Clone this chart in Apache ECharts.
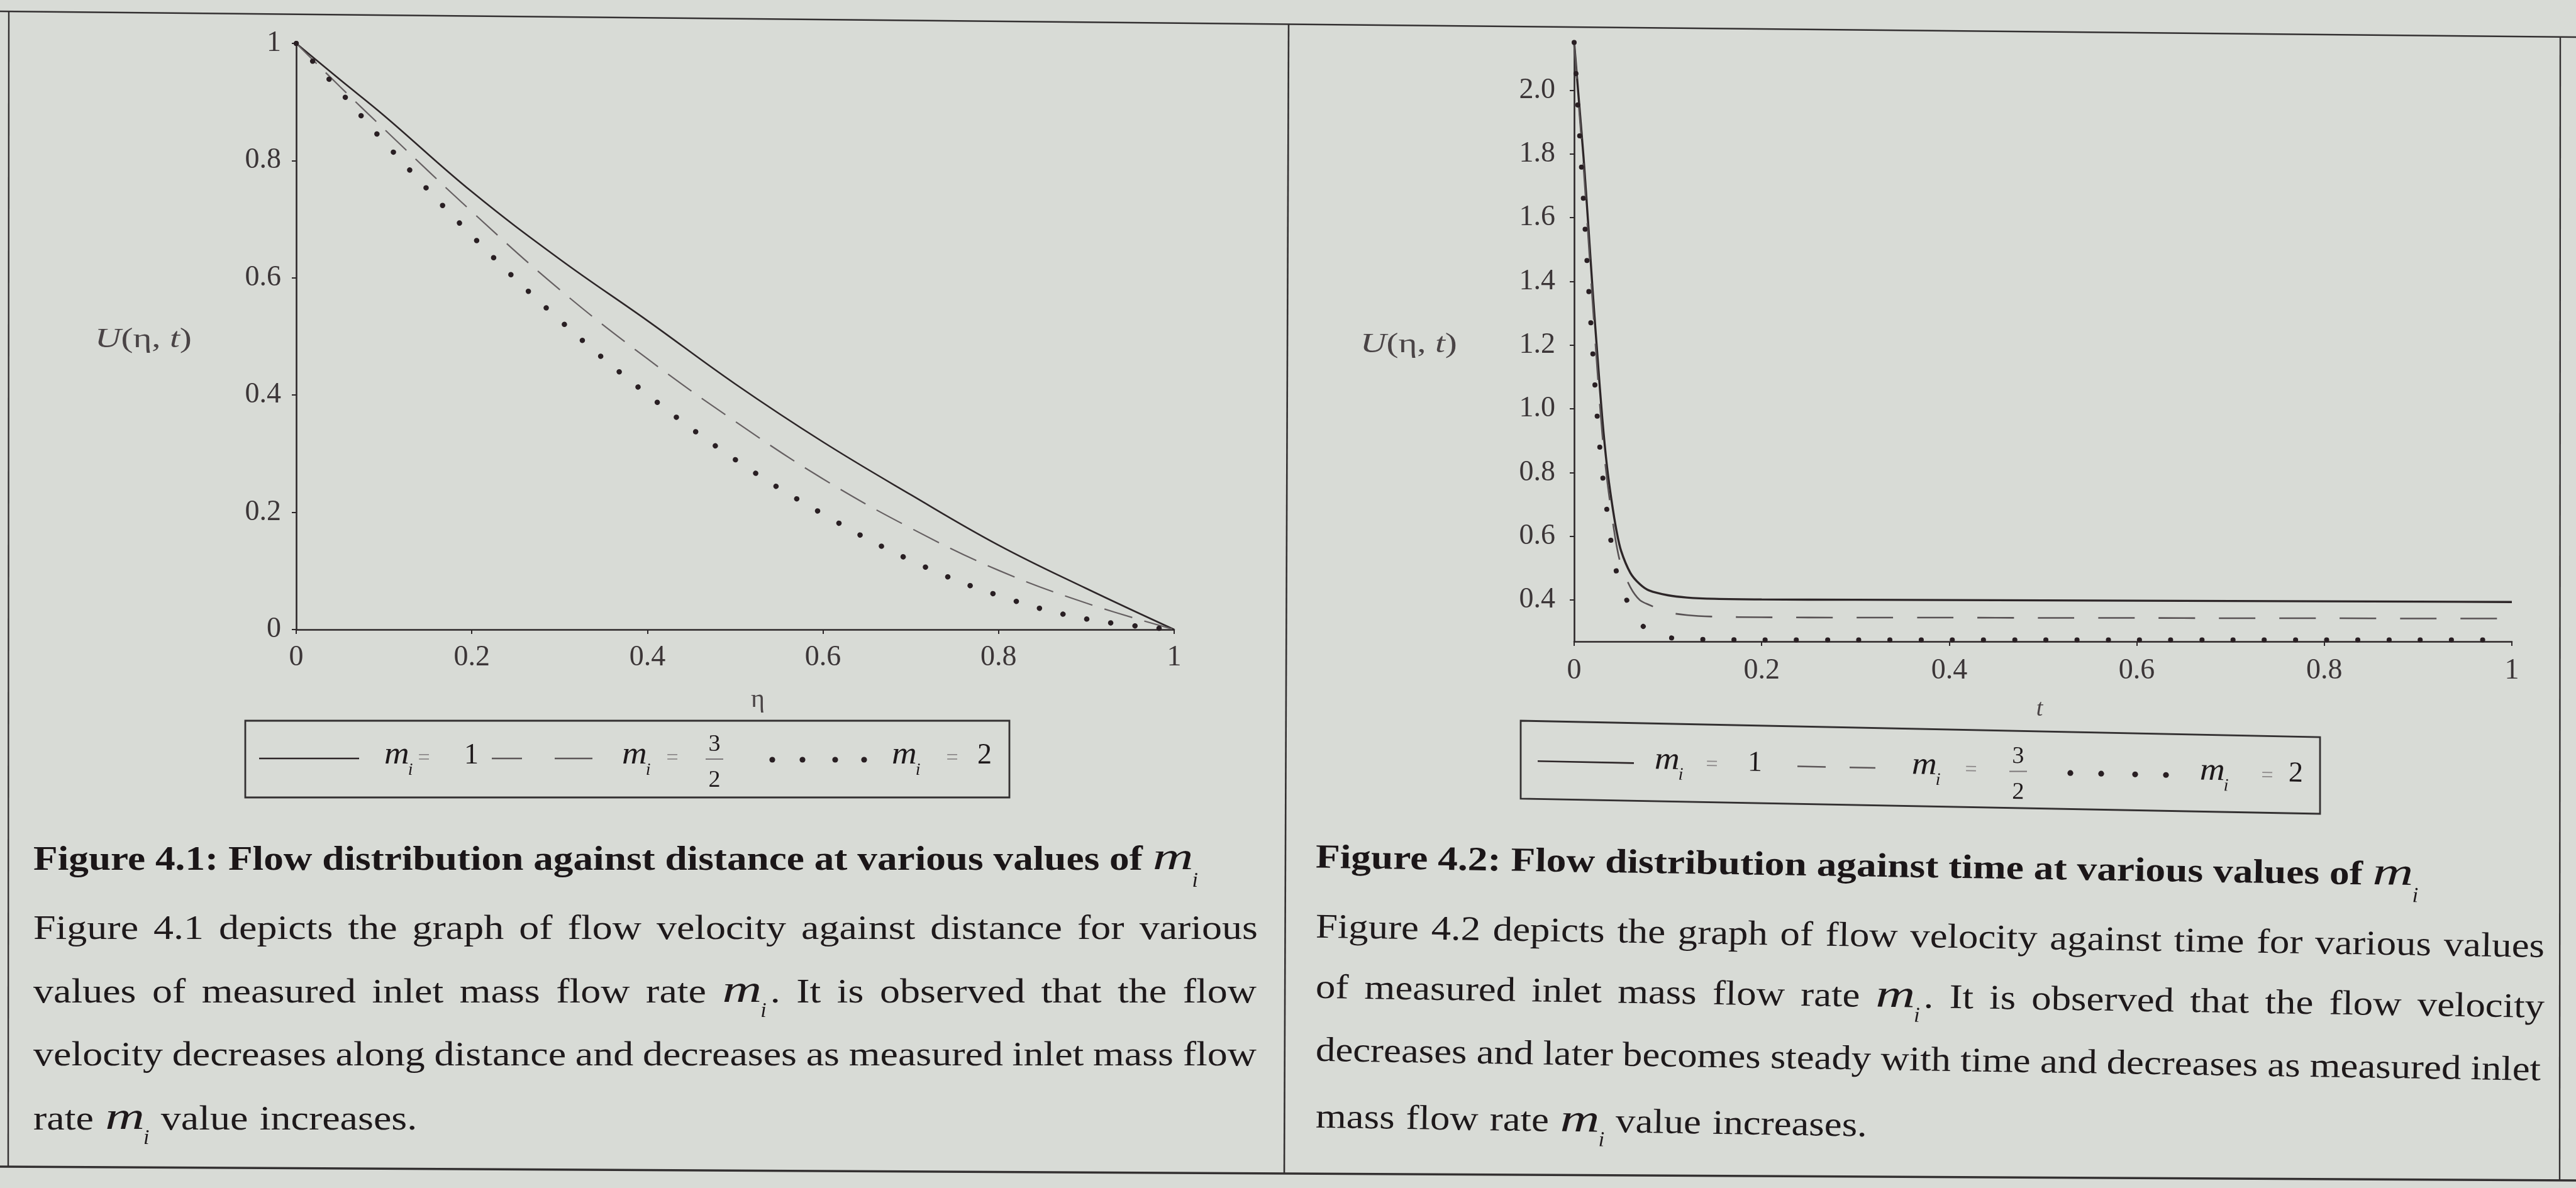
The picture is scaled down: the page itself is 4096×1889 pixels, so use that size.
<!DOCTYPE html>
<html>
<head>
<meta charset="utf-8">
<title>Flow distribution for various values of m_i</title>
<script src="https://cdn.jsdelivr.net/npm/echarts@6/dist/echarts.min.js"></script>
<style>
  html, body { margin: 0; padding: 0; background: #d8dbd6; overflow: hidden; }
  #chart { width: 4096px; height: 1889px; }
</style>
</head>
<body>
<div id="chart"></div>
<script>
// ---------- Figure 4.1: U(eta, t) against distance eta ----------
const etaValues = [0, 0.05, 0.1, 0.2, 0.3, 0.4, 0.5, 0.6, 0.7, 0.8, 0.9, 1.0];
const uDistM1   = [1.000, 0.938, 0.877, 0.747, 0.632, 0.527, 0.419, 0.320, 0.230, 0.144, 0.070, 0.000];
const uDistM32  = [1.000, 0.926, 0.854, 0.713, 0.580, 0.462, 0.355, 0.257, 0.173, 0.101, 0.045, 0.000];
const uDistM2   = [1.000, 0.918, 0.832, 0.672, 0.528, 0.401, 0.290, 0.197, 0.118, 0.058, 0.018, 0.000];

// ---------- Figure 4.2: U(eta, t) against time t ----------
const tValues  = [0, 0.005, 0.01, 0.015, 0.02, 0.025, 0.03, 0.035, 0.04, 0.045, 0.05, 0.06, 0.07, 0.08, 0.1, 0.12, 0.15, 0.2, 0.3, 0.4, 0.5, 0.6, 0.7, 0.8, 0.9, 1.0];
const uTimeM1  = [2.15, 1.97, 1.79, 1.58, 1.36, 1.16, 0.97, 0.82, 0.71, 0.62, 0.555, 0.485, 0.45, 0.43, 0.415, 0.408, 0.404, 0.402, 0.401, 0.400, 0.399, 0.398, 0.397, 0.396, 0.395, 0.394];
const uTimeM32 = [2.15, 1.95, 1.76, 1.54, 1.32, 1.11, 0.92, 0.78, 0.67, 0.575, 0.51, 0.44, 0.40, 0.385, 0.362, 0.353, 0.348, 0.346, 0.345, 0.345, 0.344, 0.344, 0.343, 0.343, 0.342, 0.342];
const uTimeM2  = [2.15, 1.90, 1.65, 1.40, 1.17, 0.96, 0.80, 0.68, 0.57, 0.49, 0.445, 0.375, 0.33, 0.302, 0.283, 0.278, 0.276, 0.275, 0.275, 0.275, 0.275, 0.275, 0.275, 0.275, 0.275, 0.275];

// axis ranges and tick labels
const timeAxisMin = 0.27;
const timeAxisMax = 2.153;
const timeAxisTicks = [0.4, 0.6, 0.8, 1.0, 1.2, 1.4, 1.6, 1.8, 2.0];

// legend entries and captions
const legendValues = ['1', '3/2', '2'];
const captionLeft  = 'Figure 4.1: Flow distribution against distance at various values of {m}';
const captionRight = 'Figure 4.2: Flow distribution against time at various values of {m}';
const paragraphLeft = [
  'Figure 4.1 depicts the graph of flow velocity against distance for various',
  'values of measured inlet mass flow rate {m}. It is observed that the flow',
  'velocity decreases along distance and decreases as measured inlet mass flow',
  'rate {m} value increases.'
];
const paragraphRight = [
  'Figure 4.2 depicts the graph of flow velocity against time for various values',
  'of measured inlet mass flow rate {m}. It is observed that the flow velocity',
  'decreases and later becomes steady with time and decreases as measured inlet',
  'mass flow rate {m} value increases.'
];

// ---------- styling ----------
const SERIF = '"Liberation Serif", "Times New Roman", Times, serif';
const INK = '#1e191b';
const LABEL = '#3b3537';
const AXIS = '#2c2729';
const FRAME = '#333031';
const SOLID = { color: '#2d2628', width: 2.6 };
const DASH_L = { color: '#666062', width: 2.2, type: [46, 20] };
const DOT_L = { color: '#291f23', width: 8.5, type: [0.1, 38.5], cap: 'round' };
const SOLID_R = { color: '#2d2628', width: 3.4 };
const DASH_R = { color: '#585254', width: 2.6, type: [58, 38] };
const DOT_R = { color: '#291f23', width: 8, type: [0.1, 49.5], cap: 'round' };
const TICK_FONT = 46;
const PARA_SIZE = 55;
const CAP_SIZE = 54;

const mctx = document.createElement('canvas').getContext('2d');
function measure(s, size, weight, fstyle) {
  mctx.font = (fstyle || 'normal') + ' ' + (weight || 'normal') + ' ' + size + 'px ' + SERIF;
  return mctx.measureText(s).width;
}
// distance from the vertical middle of a text box down to its alphabetic baseline
const KB = 0.34;
function txt(s, x, yb, size, o) {
  o = o || {};
  const align = o.align || 'left';
  return {
    type: 'text', silent: true, z: 20,
    x: x, y: yb - KB * size, rotation: o.rot || 0, scaleX: o.sx || 1,
    style: {
      text: s, fontFamily: SERIF, fontSize: size,
      fontWeight: o.weight || 'normal', fontStyle: o.fstyle || 'normal',
      fill: o.color || INK, align: align, textAlign: align,
      verticalAlign: 'middle', textVerticalAlign: 'middle'
    }
  };
}

// italic m with subscript i
const MATH_PARA = { mSize: 62, mSx: 1.4, subSize: 34, drop: 22, subGap: -2 };
const MATH_CAP  = { mSize: 62, mSx: 1.45, subSize: 34, drop: 26, subGap: -2 };
const MATH_LEG  = { mSize: 50, mSx: 1.1, subSize: 28, drop: 16, subGap: -2 };
function mathW(cfg) {
  return measure('m', cfg.mSize, 'normal', 'italic') * cfg.mSx + cfg.subGap + measure('i', cfg.subSize, 'normal', 'italic');
}
function mathEls(x, yb, cfg, els, o) {
  o = o || {};
  const mw = measure('m', cfg.mSize, 'normal', 'italic') * cfg.mSx;
  els.push(txt('m', x, yb, cfg.mSize, { fstyle: 'italic', sx: cfg.mSx, rot: o.rot, color: o.color }));
  els.push(txt('i', x + mw + cfg.subGap, yb + cfg.drop, cfg.subSize, { fstyle: 'italic', rot: o.rot, color: o.color }));
}

function tokenize(line) {
  return line.split(' ').map(function (w) {
    return w.indexOf('{m}') === 0 ? { math: true, tail: w.slice(3) } : { word: w };
  });
}
function fitScale(line, x0, xEnd, size, weight, math) {
  const toks = tokenize(line);
  let wordsW = 0, fixedW = 0;
  toks.forEach(function (t) {
    if (t.math) {
      fixedW += mathW(math);
      if (t.tail) { wordsW += measure(t.tail, size, weight); fixedW += 6; }
    } else wordsW += measure(t.word, size, weight);
  });
  wordsW += (toks.length - 1) * measure(' ', size, weight);
  return (xEnd - x0 - fixedW) / wordsW;
}
function layoutLine(line, spec, els) {
  const toks = tokenize(line);
  const slope = spec.slope || 0;
  const rot = -Math.atan(slope);
  toks.forEach(function (t) {
    if (t.math) {
      t.w = mathW(spec.math) + (t.tail ? 6 + measure(t.tail, spec.size, spec.weight) * spec.sx : 0);
    } else t.w = measure(t.word, spec.size, spec.weight) * spec.sx;
  });
  const total = toks.reduce(function (a, t) { return a + t.w; }, 0);
  const gap = spec.x1 != null
    ? (spec.x1 - spec.x0 - total) / (toks.length - 1)
    : measure(' ', spec.size, spec.weight) * spec.sx * 1.15;
  let x = spec.x0;
  toks.forEach(function (t) {
    const yb = spec.yb + slope * (x - spec.x0);
    if (t.math) {
      mathEls(x, yb, spec.math, els, { rot: rot, color: spec.color });
      if (t.tail) {
        const tx = x + mathW(spec.math) + 6;
        els.push(txt(t.tail, tx, spec.yb + slope * (tx - spec.x0), spec.size, { weight: spec.weight, sx: spec.sx, rot: rot, color: spec.color }));
      }
    } else {
      els.push(txt(t.word, x, yb, spec.size, { weight: spec.weight, sx: spec.sx, rot: rot, color: spec.color }));
    }
    x += t.w + gap;
  });
}
function textBlock(b, els) {
  // bold caption, fitted to its measured extent
  const csx = fitScale(b.caption, b.x0, b.capEnd, CAP_SIZE, 'bold', MATH_CAP);
  layoutLine(b.caption, { x0: b.x0, x1: b.capEnd, yb: b.capBase, size: CAP_SIZE, weight: 'bold', sx: csx, slope: b.slope, math: MATH_CAP, color: '#1b1618' }, els);
  // justified paragraph, last line ragged
  const last = b.lines.length - 1;
  const psx = fitScale(b.lines[last], b.x0, b.lastEnd, PARA_SIZE, 'normal', MATH_PARA);
  b.lines.forEach(function (line, i) {
    layoutLine(line, {
      x0: b.x0, x1: i < last ? b.x1[i] : null, yb: b.bases[i],
      size: PARA_SIZE, weight: 'normal', sx: psx, slope: b.slope, math: MATH_PARA, color: INK
    }, els);
  });
}

function legendBlock(L, els) {
  const yb = function (x) { return L.yb + L.slope * (x - L.xref); };
  const rot = -Math.atan(L.slope);
  els.push({ type: 'polygon', silent: true, z: 15, shape: { points: L.box }, style: { fill: 'none', stroke: FRAME, lineWidth: 2.8 } });
  // solid sample, m_i = 1
  els.push({ type: 'line', silent: true, z: 15, shape: { x1: L.solid[0], y1: yb(L.solid[0]) - 12, x2: L.solid[1], y2: yb(L.solid[1]) - 12 }, style: { stroke: SOLID.color, lineWidth: 2.6 } });
  mathEls(L.m[0], yb(L.m[0]), MATH_LEG, els, { rot: rot });
  els.push(txt('=', L.eq[0], yb(L.eq[0]), 34, { align: 'center', color: '#8c8889', rot: rot }));
  els.push(txt(legendValues[0], L.one, yb(L.one), 46, { rot: rot }));
  // dashed sample, m_i = 3/2
  L.dashes.forEach(function (d) {
    els.push({ type: 'line', silent: true, z: 15, shape: { x1: d[0], y1: yb(d[0]) - 12, x2: d[1], y2: yb(d[1]) - 12 }, style: { stroke: '#5d5759', lineWidth: 2.4 } });
  });
  mathEls(L.m[1], yb(L.m[1]), MATH_LEG, els, { rot: rot });
  els.push(txt('=', L.eq[1], yb(L.eq[1]), 34, { align: 'center', color: '#8c8889', rot: rot }));
  const frac = legendValues[1].split('/');
  const fb = yb(L.frac);
  els.push(txt(frac[0], L.frac, fb - 34 + 0.33 * 38, 38, { align: 'center', rot: rot }));
  els.push({ type: 'line', silent: true, z: 15, shape: { x1: L.frac - 14, y1: fb - 11, x2: L.frac + 14, y2: fb - 11 }, style: { stroke: '#7c7779', lineWidth: 2 } });
  els.push(txt(frac[1], L.frac, fb + 23 + 0.33 * 38, 38, { align: 'center', rot: rot }));
  // dotted sample, m_i = 2
  L.dots.forEach(function (x) {
    els.push({ type: 'circle', silent: true, z: 15, shape: { cx: x, cy: yb(x) - 10, r: 4.6 }, style: { fill: DOT_L.color } });
  });
  mathEls(L.m[2], yb(L.m[2]), MATH_LEG, els, { rot: rot });
  els.push(txt('=', L.eq[2], yb(L.eq[2]), 34, { align: 'center', color: '#8c8889', rot: rot }));
  els.push(txt(legendValues[2], L.two, yb(L.two), 46, { rot: rot }));
}

function axisName(x, y, size) {
  return {
    type: 'text', silent: true, z: 20, x: x, y: y, scaleX: 1.3,
    style: {
      text: '{i|U}(η, {i|t})', fontFamily: SERIF, fontSize: size, fill: '#4a4446',
      align: 'center', textAlign: 'center', verticalAlign: 'middle', textVerticalAlign: 'middle',
      rich: { i: { fontFamily: SERIF, fontSize: size, fontStyle: 'italic', fill: '#4a4446' } }
    }
  };
}

// ---------- graphic layer: frame, legends, names, text ----------
const els = [];
[
  [0, 18, 4096, 59, 2.6],
  [14, 18, 13, 1856, 2.4],
  [2049, 38, 2042, 1866, 2.6],
  [4071, 59, 4070, 1876, 2.4],
  [0, 1855, 4096, 1877, 3.6]
].forEach(function (l) {
  els.push({ type: 'line', silent: true, z: 5, shape: { x1: l[0], y1: l[1], x2: l[2], y2: l[3] }, style: { stroke: FRAME, lineWidth: l[4] } });
});

els.push(axisName(228, 540, 44));
els.push(axisName(2240, 548, 44));
els.push(txt('η', 1205, 1113 + KB * 42, 42, { align: 'center', color: '#4a4446' }));
els.push(txt('t', 3243, 1128 + KB * 38, 38, { align: 'center', fstyle: 'italic', color: '#4a4446' }));

legendBlock({
  yb: 1218, xref: 0, slope: 0,
  box: [[390, 1146], [1605, 1146], [1605, 1268], [390, 1268]],
  solid: [412, 571], m: [611, 989, 1418], eq: [674, 1069, 1514], one: 738,
  dashes: [[782, 830], [882, 942]], frac: 1136, dots: [1228, 1276, 1328, 1374], two: 1554
}, els);
legendBlock({
  yb: 1226, xref: 2631, slope: 0.02,
  box: [[2418, 1146], [3689, 1172], [3689, 1294], [2418, 1270]],
  solid: [2445, 2598], m: [2631, 3040, 3498], eq: [2722, 3134, 3605], one: 2779,
  dashes: [[2858, 2903], [2941, 2982]], frac: 3209, dots: [3292, 3341, 3395, 3444], two: 3639
}, els);

textBlock({
  caption: captionLeft, x0: 53, capEnd: 1905, capBase: 1387, slope: 0,
  lines: paragraphLeft, x1: [2000, 1998, 1998], bases: [1497, 1598, 1698, 1800], lastEnd: 656
}, els);
textBlock({
  caption: captionRight, x0: 2092, capEnd: 3845, capBase: 1384, slope: 0.016,
  lines: paragraphRight, x1: [4046, 4046, 4040], bases: [1495, 1591, 1691, 1797], lastEnd: 2957
}, els);

// ---------- chart ----------
function pairs(xs, ys) { return xs.map(function (x, i) { return [x, ys[i]]; }); }
function axisCommon(extra) {
  return Object.assign({
    type: 'value',
    axisLine: { show: true, onZero: false, lineStyle: { color: AXIS, width: 2.6 } },
    axisTick: { show: true, length: 7, lineStyle: { color: AXIS, width: 2 } },
    axisLabel: { fontFamily: SERIF, fontSize: TICK_FONT, color: LABEL },
    splitLine: { show: false }
  }, extra);
}
function lineSeries(name, xi, data, st, smooth) {
  return {
    name: name, type: 'line', xAxisIndex: xi, yAxisIndex: xi, data: data,
    showSymbol: false, symbol: 'none', smooth: smooth,
    silent: true, z: 3,
    lineStyle: { color: st.color, width: st.width, type: st.type || 'solid', cap: st.cap || 'butt' }
  };
}

const option = {
  backgroundColor: '#d8dbd6',
  animation: false,
  grid: [
    { left: 471, top: 69, width: 1396, height: 932, outerBoundsMode: 'none' },
    { left: 2503, top: 66, width: 1491, height: 954, outerBoundsMode: 'none' }
  ],
  xAxis: [
    axisCommon({ gridIndex: 0, min: 0, max: 1, interval: 0.2, axisLabel: { fontFamily: SERIF, fontSize: TICK_FONT, color: LABEL, margin: 22 } }),
    axisCommon({ gridIndex: 1, min: 0, max: 1, interval: 0.2, axisLabel: { fontFamily: SERIF, fontSize: TICK_FONT, color: LABEL, margin: 24 } })
  ],
  yAxis: [
    axisCommon({ gridIndex: 0, min: 0, max: 1, interval: 0.2, axisLabel: { fontFamily: SERIF, fontSize: TICK_FONT, color: LABEL, margin: 24 } }),
    axisCommon({
      gridIndex: 1, min: timeAxisMin, max: timeAxisMax,
      axisTick: { show: true, length: 7, lineStyle: { color: AXIS, width: 2 }, customValues: timeAxisTicks },
      axisLabel: {
        fontFamily: SERIF, fontSize: TICK_FONT, color: LABEL, margin: 30,
        customValues: timeAxisTicks,
        formatter: function (v) { return v.toFixed(1); }
      }
    })
  ],
  series: [
    lineSeries('m_i = 1', 0, pairs(etaValues, uDistM1), SOLID, 0.4),
    lineSeries('m_i = 3/2', 0, pairs(etaValues, uDistM32), DASH_L, 0.4),
    lineSeries('m_i = 2', 0, pairs(etaValues, uDistM2), DOT_L, 0.4),
    lineSeries('m_i = 1', 1, pairs(tValues, uTimeM1), SOLID_R, 0.3),
    lineSeries('m_i = 3/2', 1, pairs(tValues, uTimeM32), DASH_R, 0.3),
    lineSeries('m_i = 2', 1, pairs(tValues, uTimeM2), DOT_R, 0.3)
  ],
  graphic: { elements: els }
};

const chart = echarts.init(document.getElementById('chart'), null, { renderer: 'canvas', width: 4096, height: 1889 });
chart.setOption(option);
</script>
</body>
</html>
